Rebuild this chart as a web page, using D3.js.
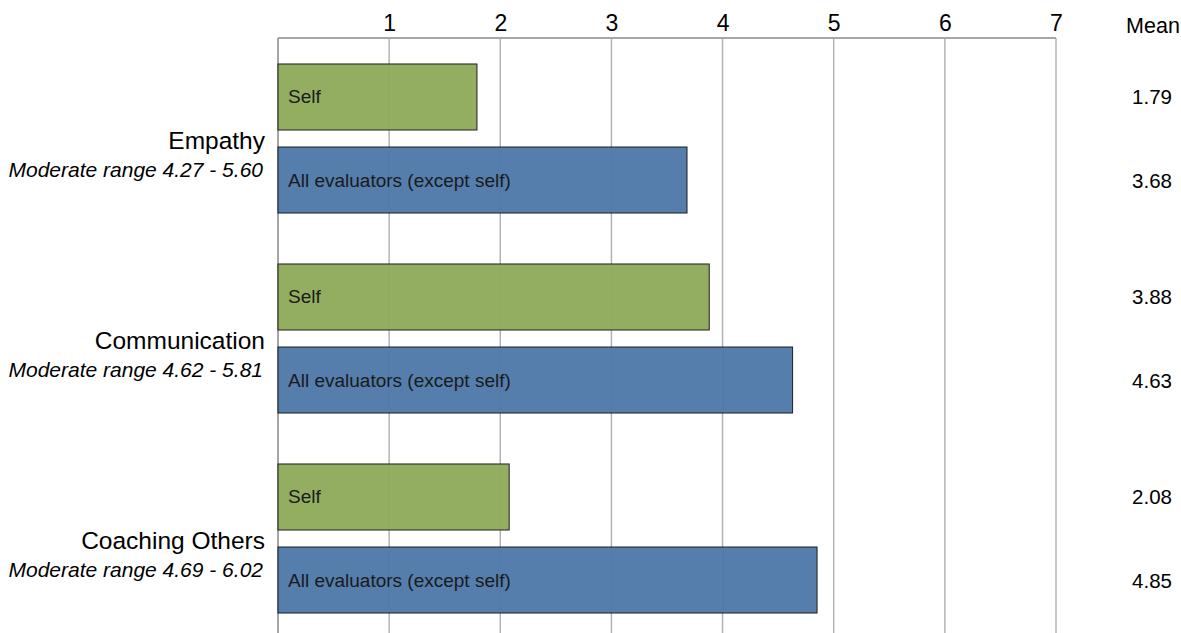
<!DOCTYPE html>
<html>
<head>
<meta charset="utf-8">
<script src="https://cdn.jsdelivr.net/npm/d3@7"></script>
<style>
  html, body { margin: 0; padding: 0; background: #fff; }
  svg { display: block; font-family: "Liberation Sans", Arial, sans-serif; }
</style>
</head>
<body>
<svg id="chart" width="1181" height="633"></svg>
<script>
const categories = ["Empathy", "Communication", "Coaching Others"];
const ranges = ["Moderate range 4.27 - 5.60", "Moderate range 4.62 - 5.81", "Moderate range 4.69 - 6.02"];
const seriesNames = ["Self", "All evaluators (except self)"];
const selfValues = [1.79, 3.88, 2.08];
const othersValues = [3.68, 4.63, 4.85];
const tickValues = [1, 2, 3, 4, 5, 6, 7];
const meanHeader = "Mean";

const svg = d3.select("#chart");
const x = d3.scaleLinear().domain([0, 7]).range([278, 1056]);
const plotTop = 38, plotBottom = 640;
const y0 = d3.scaleBand().domain(categories).range([38.5, 638.5]).padding(0);
const y1 = d3.scaleBand().domain(seriesNames).range([0, y0.bandwidth()])
  .paddingInner(0.2048).paddingOuter(0.307);
const colors = d3.scaleOrdinal().domain(seriesNames).range(["#8fab5a", "#4e79aa"]);

const data = categories.map((c, i) => ({
  cat: c, range: ranges[i],
  bars: [{ s: seriesNames[0], v: selfValues[i] }, { s: seriesNames[1], v: othersValues[i] }]
}));

// gridlines
svg.append("g").selectAll("line").data(tickValues).join("line")
  .attr("x1", d => x(d)).attr("x2", d => x(d))
  .attr("y1", plotTop).attr("y2", plotBottom)
  .attr("stroke", "#b3b3b3").attr("stroke-width", 1.5);

// top and left border
svg.append("line").attr("x1", x(0)).attr("x2", x(7)).attr("y1", plotTop).attr("y2", plotTop)
  .attr("stroke", "#a6a6a6").attr("stroke-width", 2);
svg.append("line").attr("x1", x(0)).attr("x2", x(0)).attr("y1", plotTop).attr("y2", plotBottom)
  .attr("stroke", "#a6a6a6").attr("stroke-width", 2);

// top axis labels
const axis = d3.axisTop(x).tickValues(tickValues).tickSize(0).tickPadding(7).tickFormat(d3.format("d"));
const gAxis = svg.append("g").attr("transform", `translate(0,${plotTop})`).call(axis);
gAxis.select(".domain").remove();
gAxis.selectAll("text").attr("font-size", 23).attr("fill", "#000")
  .attr("font-family", "Liberation Sans, Arial, sans-serif");

// Mean header
svg.append("text").attr("x", 1153).attr("y", 33).attr("text-anchor", "middle")
  .attr("font-size", 21.5).attr("fill", "#000").text(meanHeader);

const groups = svg.append("g").selectAll("g").data(data).join("g")
  .attr("transform", d => `translate(0,${y0(d.cat)})`);

groups.selectAll("rect").data(d => d.bars).join("rect")
  .attr("x", x(0)).attr("y", d => y1(d.s))
  .attr("width", d => x(d.v) - x(0)).attr("height", y1.bandwidth())
  .attr("fill", d => colors(d.s)).attr("fill-opacity", 0.96)
  .attr("stroke", "#1e1e1e").attr("stroke-width", 1);

groups.selectAll("text.bl").data(d => d.bars).join("text").attr("class", "bl")
  .attr("x", x(0) + 10).attr("y", d => y1(d.s) + y1.bandwidth() / 2 + 6.5)
  .attr("font-size", 19).attr("fill", "#1a1a1a").text(d => d.s);

groups.selectAll("text.mv").data(d => d.bars).join("text").attr("class", "mv")
  .attr("x", 1152).attr("y", d => y1(d.s) + y1.bandwidth() / 2 + 7.5)
  .attr("text-anchor", "middle").attr("font-size", 20.5).attr("fill", "#000")
  .text(d => d3.format(".2f")(d.v));

// category labels
groups.append("text").attr("x", 265).attr("y", y0.bandwidth() / 2 + 10)
  .attr("text-anchor", "end").attr("font-size", 24.5).attr("fill", "#000").text(d => d.cat);
groups.append("text").attr("x", 263).attr("y", y0.bandwidth() / 2 + 38)
  .attr("text-anchor", "end").attr("font-size", 21).attr("font-style", "italic")
  .attr("fill", "#000").text(d => d.range);
</script>
</body>
</html>
